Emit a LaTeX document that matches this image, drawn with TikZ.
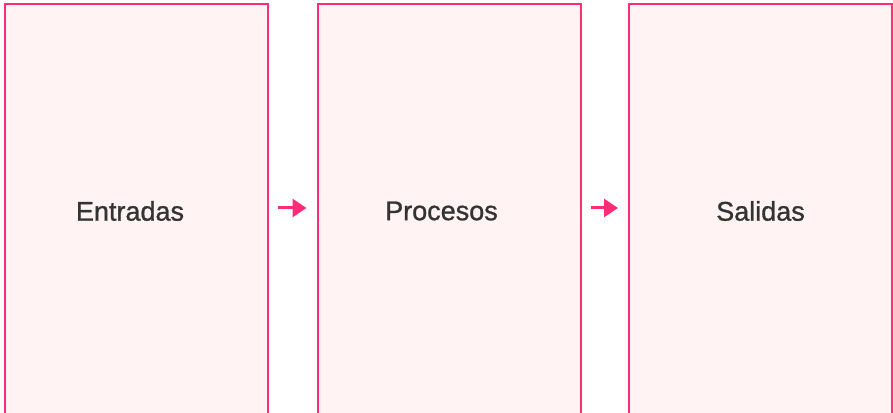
\documentclass[tikz,border=0pt]{standalone}
\usepackage{fontspec}
\setmainfont{Liberation Sans}
\newfontfamily\stagefont[FakeBold=1]{Liberation Sans}
\usetikzlibrary{arrows.meta}
\definecolor{edgepink}{HTML}{FF2D78}
\definecolor{fillpink}{HTML}{FFF3F3}
\definecolor{labelgray}{HTML}{333333}
\tikzset{
  stagebox/.style={draw=edgepink, fill=fillpink, line width=2pt,
    minimum width=263pt, minimum height=416pt, inner sep=0pt},
  stagetext/.style={text=labelgray, inner sep=0pt,
    font=\stagefont\fontsize{27}{31}\selectfont},
  flowarrow/.style={draw=edgepink, line width=3pt,
    -{Triangle[length=14pt,width=18pt]},
    shorten <=9pt, shorten >=10pt}
}
\begin{document}
\begin{tikzpicture}[x=1pt,y=1pt]
  \useasboundingbox (0,0) rectangle (893,412);
  \clip (0,0) rectangle (893,412);
  \node[stagebox] (entradas) at (136.5,200) {};
  \node[stagebox] (procesos) at (449,200) {};
  \node[stagebox] (salidas)  at (760.5,200) {};
  \node[stagetext] (tentradas) at (130,201) {Entradas};
  \node[stagetext] (tprocesos) at (441.5,201) {Procesos};
  \node[stagetext] (tsalidas)  at (760.5,201) {Salidas};
  \draw[flowarrow] ([yshift=4pt]entradas.east) -- ([yshift=4pt]procesos.west);
  \draw[flowarrow] ([yshift=4pt]procesos.east) -- ([yshift=4pt]salidas.west);
\end{tikzpicture}
\end{document}
